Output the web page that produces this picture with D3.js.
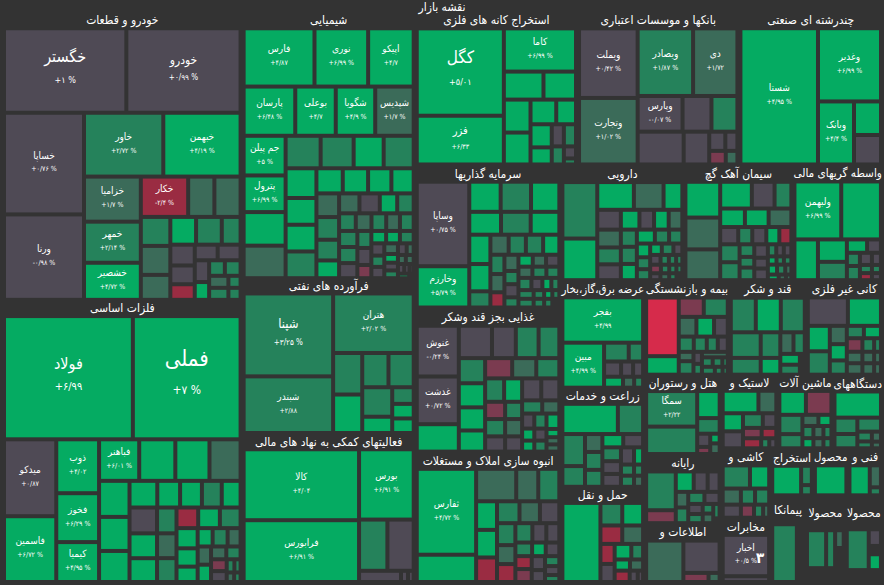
<!DOCTYPE html>
<html>
<head>
<meta charset="utf-8">
<script src="https://cdnjs.cloudflare.com/ajax/libs/d3/7.8.5/d3.min.js"></script>
<style>
html, body { margin: 0; padding: 0; background: #333333; overflow: hidden; }
text { font-family: "DejaVu Sans Condensed", "DejaVu Sans", sans-serif; fill: #ffffff; text-anchor: middle; dominant-baseline: middle; }
</style>
</head>
<body>
<svg id="chart" width="884" height="585"></svg>
<script>
// groups start with "h" or "v", leaves are [market value, change %, symbol, change label]
const autoTree = ["v",
  ["h", [10164, 1, "خگستر", "+۱ %"], [9492, 0.99, "خودرو", "+۰/۹۹ %"]],
  ["h",
    ["v", [8000, 0.76, "خساپا", "+۰/۷۶ %"], [6720, -0.98, "ورنا", "-۰/۹۸ %"]],
    ["v",
      ["h", [4977, 2.72, "خاور", "+۲/۷۲ %"], [4851, 4.19, "خبهمن", "+۴/۱۹ %"]],
      ["h",
        ["v", [2520, 1.7, "خزامیا", "+۱/۷ %"], [2296, 2.14, "خمهر", "+۲/۱۴ %"], [2072, 4.72, "خشصیر", "+۴/۷۲ %"]],
        ["v",
          ["h", [1880, -2.4, "خکار", "-۲/۴ %"], [1040, 1.5], [1040, 1.5]],
          ["h",
            ["v", [841, 2.5], [841, 1.5], [725, 1.5]],
            ["v",
              ["h", [702, 5], [702, 3], [513, 2.2]],
              ["h",
                ["v", [500, 0.5], [450, 0.5], [375, -2.5]],
                ["v",
                  ["h", [352, 0.5], [352, 0.5]],
                  ["h",
                    ["v", [308, 0.5], [252, 5]],
                    ["v",
                      ["h", [240, 3], [240, 2.2]],
                      ["h", [228, 1.5], [144, 3]],
                      ["h", [228, 3], [144, 2.2]]
                    ]
                  ]
                ]
              ]
            ]
          ]
        ]
      ]
    ]
  ]
];

const metalTree = ["v",
  ["h", [15616, 6.99, "فولاد", "+۶/۹۹"], [13054, 7, "فملی", "+۷ %"]],
  ["h",
    ["v", [3952, 0.87, "میدکو", "+۰/۸۷"], [3380, 6.72, "فاسمین", "+۶/۷۲ %"]],
    ["v", [2268, 4.02, "ذوب", "+۴/۰۲"], [2058, 6.29, "فخوز", "+۶/۲۹ %"], [1680, 4.95, "کیمیا", "+۴/۹۵ %"]],
    ["v",
      ["h", [1640, 6.01, "فباهنر", "+۶/۰۱ %"], [1476, 5], [1394, 5], [1271, 1.6]],
      ["h",
        ["v", [1080, 5], [1020, 5], [930, 5]],
        ["v",
          ["h", [728, 5], [598, 5], [572, 5], [520, 3], [494, 5]],
          ["h",
            ["v", [700, 0.5], [672, 5], [644, 5]],
            ["v", [494, 2], [475, 1.5], [456, 2.5]],
            ["v",
              ["h", [440, -2.5], [440, 5], [420, 3]],
              ["h",
                ["v", [420, 5], [380, 5], [320, 5]],
                ["v",
                  ["h", [270, 5], [270, 3], [234, 1.5]],
                  ["h",
                    ["v", [240, 1.5], [228, 5]],
                    ["v",
                      ["h", [192, 1.5], [180, 2.5]],
                      ["h",
                        ["v", [182, -1.5], [168, 0.5]],
                        ["v", ["h", [100, 2.5], [80, 2.5]], ["h", [70, 1.5], [60, 2.5]]]
                      ]
                    ]
                  ]
                ]
              ]
            ]
          ]
        ]
      ]
    ]
  ]
];

const chemTree = ["v",
  ["h", [4060, 4.87, "فارس", "+۴/۸۷"], [3074, 6.99, "نوری", "+۶/۹۹ %"], [2610, 4.7, "اپیکو", "+۴/۷"]],
  ["h", [2499, 6.48, "پارسان", "+۶/۴۸ %"], [1960, 4.7, "بوعلی", "+۴/۷"], [1911, 4.9, "شگویا", "+۴/۹ %"], [1862, 1.7, "شپدیس", "+۱/۷ %"]],
  ["h",
    ["v", [1638, 5, "جم پیلن", "+۵ %"], [1512, 6.99, "پترول", "+۶/۹۹ %"], [1386, 5], [1344, 1.5]],
    ["v",
      ["h", [1120, 2.2], [1056, 2.2], [960, 4], [960, 2.5]],
      ["h",
        ["v", [900, 5], [810, 5], [810, 5], [810, 2.5]],
        ["v",
          ["h", [650, 5], [625, 5], [575, 5], [550, 5]],
          ["h",
            ["v", [528, 1.5], [506, 2.2], [462, 2.2], [396, 5]],
            ["v",
              ["h", [399, 1.5], [399, 0.5], [342, 5], [323, 2.5]],
              ["h", [289, 2.5], [272, 1.5], [255, 2.2], [238, 1.5], [238, 2.2]],
              ["h",
                ["v", [289, 2.5], [289, 2.5], [272, 0.5]],
                ["v", [234, 2.5], [234, 0.5], [182, -1.5]],
                ["v",
                  ["h", [180, 5], [168, 5], [168, 2.5]],
                  ["h",
                    ["v", [156, 0.5], [144, 2.5], [144, 0.5]],
                    ["v", [143, 1.5], [117, 5], [104, 0.5], [104, 2.5]],
                    ["v", ["h", [100, 0.5], [80, 1.5]], ["h", [70, 1.5], [70, 1.5]], ["h", [60, 0.5], [50, 0.5], [40, 0.5]], ["h", [50, 5], [20, null]]]
                  ]
                ]
              ]
            ]
          ]
        ]
      ]
    ]
  ]
];

const oilTree = ["h",
  ["v", [7298, 3.25, "شپنا", "+۳/۲۵ %"], [4984, 2.88, "شبندر", "+۲/۸۸"]],
  ["v",
    [4720, 2.02, "هتران", "+۲/۰۲ %"],
    ["h",
      ["v", [1189, 2.5], [1102, 4.5]],
      ["v",
        ["h", [884, 2.5], [850, 2.5]],
        ["h",
          ["v", [870, 2.5], [480, 4.5]],
          ["v", [352, 2.5], [308, 4.5], [308, 4.5]]
        ]
      ]
    ]
  ]
];

const supportTree = ["h",
  ["v", [8050, 4.04, "کالا", "+۴/۰۴"], [7015, 6.91, "فرابورس", "+۶/۹۱ %"]],
  ["v",
    [3780, 6.91, "بورس", "+۶/۹۱ %"],
    ["h", [1428, 2.5], [1326, 0.5]],
    ["h", [462, 0.5], [77, 0.5], [63, 0.5]]
  ]
];

const miningTree = ["h",
  ["v", [7482, 5.01, "کگل", "+۵/۰۱"], [4176, 6.33, "فزر", "+۶/۳۳"]],
  ["v",
    [3066, 6.99, "کاما", "+۶/۹۹ %"],
    ["h", [1092, 5], [896, 5]],
    ["h",
      ["v", [864, 5], [837, 5]],
      ["v",
        ["h", [624, 5], [480, 5]],
        ["h",
          ["v", [483, 5], [357, 5]],
          ["v", [264, 0.5], [216, 2.5]],
          ["v", [264, 2.5], [144, 0.5], [72, 2.5]]
        ]
      ]
    ]
  ]
];

const investTree = ["h",
  ["v", [4368, 0.75, "وساپا", "+۰/۷۵ %"], [2132, 5.79, "وخارزم", "+۵/۷۹ %"]],
  ["v",
    ["h", [930, 5], [900, 2.5], [840, 5]],
    ["h", [713, 5], [667, 2.5], [644, 5]],
    ["h",
      ["v", [609, 5], [567, 5], [336, 2.5]],
      ["v",
        ["h", [360, 1.5], [340, 2.5], [340, 2.5], [320, 5]],
        ["h",
          ["v", [266, 2.5], [252, 1.5], [210, -2.5]],
          ["v", [224, 1.5], [182, 2.5], [182, 0.5], [140, 2.5]],
          ["v",
            ["h", [168, 5], [156, 1.5], [156, 0.5]],
            ["h", [154, 1.5], [154, 2.5], [143, 2.5]],
            ["h", [156, 2.5], [132, 0.5], [108, 4], [96, 2.5]],
            ["h", [130, 2.5], [90, 2.5], [70, 5], [60, 2.5]],
            ["h", [130, 2.5], [90, 2.5], [70, 2.5], [60, null]]
          ]
        ]
      ]
    ]
  ]
];

const foodTree = ["h",
  ["v", [2100, -0.24, "غنوش", "-۰/۲۴ %"], [1974, 0.72, "غدشت", "+۰/۷۲ %"], [1134, 5]],
  ["v",
    ["h", [1056, 0.5], [759, 0.5], [726, 2.5], [660, 2.5]],
    ["h",
      ["v", [650, 2.5], [624, 5], [598, 5], [546, 5]],
      ["v",
        ["h", [540, -1.5], [480, 1.5], [460, 2.5]],
        ["h",
          ["v",
            ["h", [437, 2.5], [414, 5]],
            ["h", [340, -1.5], [289, 2.5]],
            ["h", [340, 2.5], [289, 1.5]],
            ["h", [300, 0.5], [255, 0.5]]
          ],
          ["v",
            ["h", [414, 0.5], [391, 0.5]],
            ["h", [260, 2.5], [221, 1.5]],
            ["h",
              ["v", [180, 0.5], [144, 5], [132, 5]],
              ["v", [180, 2.5], [144, 0.5], [132, 2.5]],
              ["v", [195, 5], [104, 4], [91, 1.5], [91, 1.5]]
            ]
          ]
        ]
      ]
    ]
  ]
];

const buildTree = ["h",
  ["v", [5015, 4.72, "ثفارس", "+۴/۷۲ %"], [1593, 5]],
  ["v",
    ["h", [1280, 1.5], [704, 1.5], [672, 2.5]],
    ["h",
      ["v", [588, 5], [567, 5], [504, -2.5]],
      ["v",
        ["h", [484, 2.5], [440, 1.5], [418, 0.5]],
        ["h",
          ["v", [396, 2.5], [342, 1.5], [324, -2.5]],
          ["v",
            ["h", [323, 2.5], [266, 0.5], [247, 0.5]],
            ["h", [224, 2.5], [182, 5], [182, 0.5]],
            ["h",
              ["v", [208, -2.5], [208, -1.5]],
              ["v", [182, 0.5], [156, 0.5]],
              ["v", [140, 2.5], [126, 0.5], [98, 2.5]]
            ]
          ]
        ]
      ]
    ]
  ]
];

const bankTree = ["h",
  ["v", [4012, 0.42, "ویملت", "+۰/۴۲ %"], [3835, 1.02, "وتجارت", "+۱/۰۲ %"]],
  ["v",
    ["h", [3685, 1.87, "ویصادر", "+۱/۸۷ %"], [2948, 1.72, "دی", "+۱/۷۲"]],
    ["v",
      ["h", [1575, -0.07, "وپارس", "-۰/۰۷ %"], [1015, 0.5], [910, 2.5]],
      ["h", [1485, 0.5], [825, 0.5],
        ["v", ["h", [304, 0.5], [228, 0.5]], ["h", [221, -1.5], [156, 1.5]]]
      ]
    ]
  ]
];

const multiTree = ["h",
  [10395, 4.95, "شستا", "+۴/۹۵ %"],
  ["v",
    [4536, 6.99, "وغدیر", "+۶/۹۹ %"],
    ["h", [2232, 4.4, "وبانک", "+۴/۴ %"], ["v", [891, 5], [783, 0.5]]]
  ]
];

const drugTree = ["h",
  ["v", [1938, 2.2], [1428, 5]],
  ["v",
    ["h", [999, 5], [810, 1.5], [513, 5]],
    ["h",
      ["v", [460, 0.5], [414, 1.5], [391, 2], [368, 0.5]],
      ["v",
        ["h", [361, 5], [285, 0.5], [285, 5], [266, 1.5]],
        ["h",
          ["v", [270, 2.5], [270, 2.2], [255, 5]],
          ["v",
            ["h", [247, 5], [195, 2.5], [182, 2.5]],
            ["h",
              ["v", [180, 5], [156, 2.5], [144, 2.5]],
              ["v",
                ["h", [130, 4], [130, 2.5], [100, 0.5]],
                ["h", [100, 0.5], [80, 2.5], [70, 2.5], [60, 2.5]],
                ["h", [90, -1.5], [70, 2.5], [60, 2.5], [50, 2.5]],
                ["h", [70, 0.5], [60, 1.5], [50, 2.5], [40, null]]
              ]
            ]
          ]
        ]
      ]
    ]
  ]
];

const cementTree = ["h",
  ["v", [1224, 5], [1088, 1.5], [1054, 1.5]],
  ["v",
    ["h", [832, 5], [598, 0.5], [442, 2.5]],
    ["h", [450, 5], [432, 5], [414, 1.5]],
    ["h", [306, 0.5], [238, 2.5], [238, 0.5], [221, 5], [204, -2.5]],
    ["h",
      ["v", [342, 2.5], [342, 2.5]],
      ["v", [182, 2.5], [154, 2.5], [182, 2.5]],
      ["v", [180, 0.5], [144, 0.5], [156, 0.5]],
      ["v",
        ["h", [100, 2.5], [90, 0.5], [90, 0.5]],
        ["h", [70, 5], [60, 2.5], [60, 2.5]],
        ["h", [90, 5], [80, 2.5], [60, 1.5]],
        ["h", [60, 4], [40, 1.5], [30, 1.5]]
      ]
    ]
  ]
];

const brokerTree = ["v",
  ["h", [2668, 6.99, "ولبهمن", "+۶/۹۹ %"], [2262, 5]],
  ["h",
    [943, 5],
    ["v", [638, 5], [522, 2.5]],
    ["v",
      ["h", [266, 5], [182, 0.5]],
      ["h",
        ["v", [169, 2.5], [182, 2.5]],
        ["v", [144, 0.5], [96, 2.5], [84, -2.5]],
        ["v", [108, 0.5], [72, 2.5], [63, 0.5]]
      ]
    ]
  ]
];

const powerTree = ["v",
  [3600, 4.99, "بفجر", "+۴/۹۹"],
  ["h",
    [1845, 4.99, "مبین", "+۴/۹۹ %"],
    ["v",
      ["h", [456, 2], [266, 2.5]],
      ["h", [255, 0.5], [180, 0.5], [150, 0.5]],
      ["h", [204, 5], [120, 1.5], [96, 2.5]]
    ]
  ]
];

const insureTree = ["h",
  ["v", [1881, -5], [594, 5]],
  ["v",
    ["h", [475, -1.5], [456, 2.5]],
    ["h", [342, 1.5], [342, 5], [266, 0.5]],
    ["h", [225, 2.5], [195, 2.5], [165, 2.5], [150, 0.5]],
    ["h",
      ["v", [135, 1.5], [195, 2.5]],
      ["v", [100, 0.5], [90, 2.5]],
      ["v", [140, 1.5], ["h", [100, 2.5], [90, 2.5], [50, 2.5]], ["h", [100, 2.5], [60, 2.5], [40, 2.5]]]
    ]
  ]
];

const sugarTree = ["v",
  ["h", [850, 2.5], [850, 5], [816, 2.5]],
  ["h",
    ["v",
      ["h", [754, 2.5], [494, 2.5]],
      ["h", [493, 2.5], [323, 5]]
    ],
    ["v",
      ["h", [280, 1.5], [240, 2.5]],
      ["h",
        ["v", [208, 5], [192, 2.5]],
        ["h", [60, 1.5], [40, 1.5]]
      ]
    ]
  ]
];

const mineralTree = ["v",
  ["h", [1120, 0.5], [924, 5]],
  ["h",
    ["v", [550, 5], [506, 2.5]],
    ["v", [306, 1.5], [272, 5], [238, 2.5]],
    ["v",
      ["h", [208, 2.5], [208, 5]],
      ["h",
        ["v", [208, -1.5], [176, 1.5], [176, 1.5]],
        ["v", [156, 2.5], [132, 1.5], [132, 1.5]],
        ["v", [91, 2.5], [77, 1.5], [77, 1.5]]
      ]
    ]
  ]
];

const hotelTree = ["h",
  ["v", [1785, 2.22, "سمگا", "+۲/۲۲"], [1377, 2.5]],
  ["v",
    [598, 5],
    [345, 2.5],
    ["h",
      ["v", [169, 0.5], [91, -2]],
      ["v", [90, 5], [99, 1.5]]
    ]
  ]
];

const farmTree = ["v",
  ["h", [1650, 5], [750, 2.5]],
  ["h",
    ["v", [713, 2.5], [460, 2.5]],
    ["v", [306, 1.5], [306, 2.5], [289, 2.5]],
    ["v",
      ["h", [273, 5], [260, 0.5]],
      ["h",
        ["v", [252, 2.5], [234, 0.5], [234, 0.5]],
        ["v", [221, 0.5], [143, 2.5], [143, 2.5]],
        ["v", [153, 5], [99, 2.5], [99, 1.5]]
      ]
    ]
  ]
];

const transportTree = ["h",
  [2960, 5],
  ["v",
    ["h", [484, 2.5], [462, 5]],
    ["h", [396, -2.5], [378, 1.5]],
    ["h",
      ["v", [280, -2.5], [252, 0.5]],
      ["v",
        ["h", [255, 5], [180, 2.5]],
        ["h", [168, 5], [144, 1.5]],
        ["h", [168, -2.5], [90, 0.5], [60, 0.5]]
      ]
    ]
  ]
];

const computerTree = ["h",
  ["v", [1131, 2.5], [377, -1.5]],
  ["v",
    ["h", [360, 5], [280, 0.5], [240, 0.5]],
    ["h",
      ["v", [192, 1.5], [192, 2.5]],
      ["v",
        ["h", [192, 2.5], [180, 0.5]],
        ["h",
          ["v", [143, 0.5], [130, 2.5]],
          ["v", [100, 2.5], [100, 1.5]],
          ["v", [90, 2.5], [30, null]]
        ]
      ]
    ]
  ]
];

const infoTree = ["h",
  [1517, 1.5],
  ["v", [1152, 0.5], ["h", [225, -1.5], [99, 1.5]]]
];

const rubberTree = ["v",
  ["h", [792, 5], [396, 1.5]],
  ["h",
    ["v", [360, 5], [340, 0.5]],
    ["v",
      ["h", [285, 2.5], [195, 0.5]],
      ["h", [190, -1.5], [150, -2.5]],
      ["h", [180, -2.5], [80, 2], [70, 0.5]]
    ]
  ]
];

const machineTree = ["v",
  ["h", [624, 5], [600, -1.5]],
  ["h",
    ["v", [437, 2.5], [322, 2.5]],
    ["v",
      ["h", [176, 1.5], [143, 5]],
      ["h", [132, 2.5], [120, 1.5], [96, 2.5]],
      ["h", [110, 5], [100, 1.5], [80, 2.5]]
    ]
  ]
];

const deviceTree = ["v",
  [1196, 5],
  ["h",
    ["v", [368, 2.5], [322, 2.5]],
    ["v",
      [325, 2.5],
      ["h", ["v", [140, 2.5], [98, 2.5]], ["v", [90, 1.5], [60, 1.5]]]
    ]
  ]
];

const tileTree = ["v",
  ["h", [621, 2.5], [437, 5]],
  ["h", [288, 1.5], [224, 2.5], [224, 2.5]],
  ["h", [234, 0.5], [169, -1.5], [117, 2.5], [78, 1.5]]
];

const telecomTree = ["v",
  [1892, 0.5, "اخبار", "+۰/۵ %"],
  [264, 0.5]
];

const extractTree = ["h", [840, 5], ["v", [204, 2.5], [108, 2.5]]];
const productATree = ["h", [930, 5]];
const technicalTree = ["h", [600, 5], ["v", [242, 1.5], [88, 2.5]]];
const contractTree = ["h", [1400, 2.5], [400, null]];
const productBTree = ["v",
  ["h", [714, 2.5], [336, 2.5], ["v", [150, 1.5], [170, null]]],
  [500, null]
];
const productCTree = ["v",
  ["h", [882, 2.5], ["v", [200, 0.5], [100, null], [190, 5]]],
  [400, null]
];

const sectorNames = [
  "خودرو و قطعات", "فلزات اساسی", "شیمیایی", "فرآورده های نفتی", "فعالیتهای کمکی به نهاد های مالی",
  "استخراج کانه های فلزی", "بانکها و موسسات اعتباری", "چندرشته ای صنعتی",
  "سرمایه گذاریها", "غذایی بجز قند وشکر", "انبوه سازی املاک و مستغلات",
  "دارویی", "سیمان آهک گچ", "واسطه گریهای مالی",
  "عرضه برق،گاز،بخار", "زراعت و خدمات", "حمل و نقل",
  "بیمه و بازنشستگی", "قند و شکر", "کانی غیر فلزی",
  "هتل و رستوران", "رایانه", "اطلاعات و",
  "لاستیک و", "ماشین آلات", "دستگاههای",
  "کاشی و", "مخابرات",
  "استخراج", "محصول", "فنی و",
  "پیمانکا", "محصولا", "محصولا"
];

const sectorTrees = [
  autoTree, metalTree, chemTree, oilTree, supportTree,
  miningTree, bankTree, multiTree,
  investTree, foodTree, buildTree,
  drugTree, cementTree, brokerTree,
  powerTree, farmTree, transportTree,
  insureTree, sugarTree, mineralTree,
  hotelTree, computerTree, infoTree,
  rubberTree, machineTree, deviceTree,
  tileTree, telecomTree,
  extractTree, productATree, technicalTree,
  contractTree, productBTree, productCTree
];

// weight kept free above each sector for its heading
const sectorHeadWeights = [
  4248, 3776, 3060, 2550, 2720,
  2880, 2862, 2520,
  2414, 2556, 2414,
  2074, 1802, 1445,
  1360, 1280, 1280,
  1394, 1275, 1241,
  1184, 1258, 1258,
  848, 832, 768,
  782, 782,
  680, 527, 527,
  900, 1260, 1140
];

// weight kept free at the side of each sector, the gutter between sectors
const sectorGutterWeights = [
  864, 843, 804, 459, 444,
  456, 456, 456,
  426, 432, 393,
  348, 348, 348,
  321, 297, 285,
  282, 282, 282,
  234, 210, 177,
  219, 219, 219,
  207, 195,
  141, 141, 141,
  261, 261, 261
];

// how the sectors are arranged, by index into the lists above
const sectorLayout = ["h",
  ["v", 0, 1],
  ["v", 2, 3, 4],
  ["v",
    ["h", 5, 6, 7],
    ["h",
      ["v", 8, 9, 10],
      ["v",
        ["h", 11, 12, 13],
        ["h",
          ["v", 14, 15, 16],
          ["v",
            ["h", 17, 18, 19],
            ["h",
              ["v", 20, 21, 22],
              ["v",
                ["h", 23, 24, 25],
                ["h",
                  ["v", 26, 27],
                  ["v", ["h", 28, 29, 30], ["h", 31, 32, 33]]
                ]
              ]
            ]
          ]
        ]
      ]
    ]
  ]
];

const mapTitle = "نقشه بازار";
const telecomStray = "۳";

const width = 884;
const height = 585;

// the few labels that are larger than the default
const labelSizes = new Map([
  ["فملی", [22, 12]], ["فولاد", [16, 11]], ["خگستر", [16, 9]], ["کگل", [17, 9]],
  ["فزر", [11, 7]], ["خودرو", [12, 8]], ["شپنا", [13, 8]]
]);

function toNode(t) {
  if (typeof t[0] === "string") return { dir: t[0], children: t.slice(1).map(toNode) };
  return { value: t[0], change: t[1], name: t[2], pct: t[3] };
}

function layoutNode(t) {
  if (typeof t === "number") {
    return {
      dir: "h",
      children: [
        {
          dir: "v",
          children: [{ value: sectorHeadWeights[t], title: sectorNames[t] }, toNode(sectorTrees[t])]
        },
        { value: sectorGutterWeights[t], change: null }
      ]
    };
  }
  return { dir: t[0], children: t.slice(1).map(layoutNode) };
}

const root = d3.hierarchy(layoutNode(sectorLayout))
  .sum(d => d.value || 0);

d3.treemap()
  .size([width, height])
  .tile((node, x0, y0, x1, y1) => {
    (node.data.dir === "h" ? d3.treemapDice : d3.treemapSlice)(node, x0, y0, x1, y1);
  })
  .paddingInner(4)
  .paddingTop(d => d.depth === 0 ? 12 : 0)
  .paddingBottom(d => d.depth === 0 ? 5 : 0)
  .paddingLeft(d => d.depth === 0 ? 6 : 0)
  .paddingRight(d => d.depth === 0 ? 2 : 0)(root);

const color = d3.scaleThreshold()
  .domain([-4, -2, -1.3, -1, 1.01, 1.8, 3.5])
  .range(["#d62b4b", "#9a2c42", "#7b3b50", "#5b4253", "#4f4a55", "#3b6b59", "#25825b", "#05ab62"]);

const svg = d3.select("#chart");
const leaves = root.leaves();

svg.append("g")
  .selectAll("rect")
  .data(leaves.filter(d => d.data.change !== undefined && d.data.change !== null))
  .enter()
  .append("rect")
  .attr("x", d => d.x0)
  .attr("y", d => d.y0)
  .attr("width", d => d.x1 - d.x0)
  .attr("height", d => d.y1 - d.y0)
  .attr("fill", d => color(d.data.change));

svg.append("g")
  .selectAll("text")
  .data(leaves.filter(d => d.data.title))
  .enter()
  .append("text")
  .attr("x", d => (d.x0 + d.x1) / 2)
  .attr("y", d => (d.y0 + d.y1) / 2 + 1)
  .attr("font-size", 12)
  .text(d => d.data.title)
  .each(function (d) {
    // long headings shrink to stay over their own sector
    const room = d.x1 - d.x0 + 6;
    const len = this.getComputedTextLength();
    if (len > room) d3.select(this).attr("font-size", 12 * room / len);
  });

const labelled = leaves.filter(d => d.data.name);
const nameSize = d => (labelSizes.get(d.data.name) || [10, 7])[0];
const pctSize = d => (labelSizes.get(d.data.name) || [10, 7])[1];

svg.append("g")
  .selectAll("text")
  .data(labelled)
  .enter()
  .append("text")
  .attr("x", d => (d.x0 + d.x1) / 2)
  .attr("y", d => (d.y0 + d.y1) / 2 - nameSize(d) * 0.8)
  .attr("font-size", nameSize)
  .text(d => d.data.name);

svg.append("g")
  .selectAll("text")
  .data(labelled)
  .enter()
  .append("text")
  .attr("x", d => (d.x0 + d.x1) / 2)
  .attr("y", d => (d.y0 + d.y1) / 2 + nameSize(d) * 0.6)
  .attr("font-size", pctSize)
  .text(d => d.data.pct);

svg.append("text")
  .attr("x", width / 2)
  .attr("y", 7)
  .attr("font-size", 12)
  .text(mapTitle);

const telecomCell = labelled.find(d => d.data.name === "اخبار");
svg.append("text")
  .attr("x", telecomCell.x1 - 7)
  .attr("y", (telecomCell.y0 + telecomCell.y1) / 2 + 3)
  .attr("font-size", 15)
  .attr("font-weight", "bold")
  .text(telecomStray);
</script>
</body>
</html>
